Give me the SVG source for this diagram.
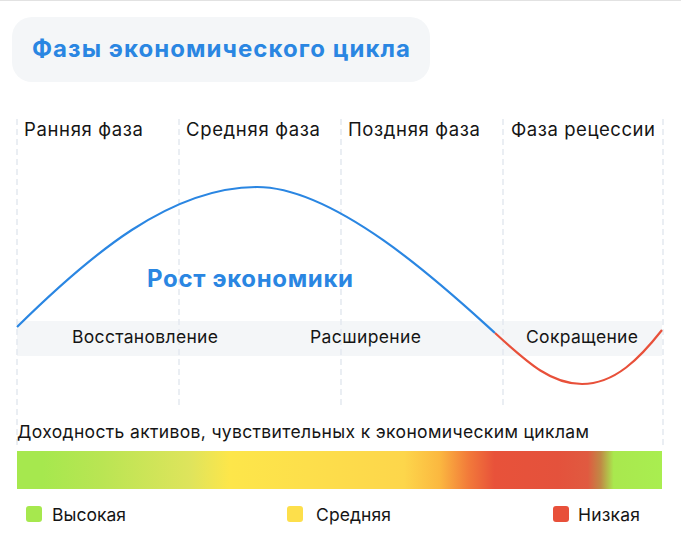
<svg xmlns="http://www.w3.org/2000/svg" width="681" height="540" viewBox="0 0 681 540">
  <style>
    .t { font-family: Inter, "Noto Sans", "DejaVu Sans", sans-serif; fill: #151515; }
    .ph { font-size: 18.5px; }
    .band { font-size: 17.5px; }
    .blue { font-family: Inter, "Noto Sans", "DejaVu Sans", sans-serif; fill: #2a86e2; font-weight: 700; }
    .grid { stroke: #e4e9ef; stroke-width: 1.5; stroke-dasharray: 6 4; fill: none; }
    .lg { font-size: 17.5px; }
  </style>
  <defs>
    <linearGradient id="yield" x1="0" y1="0" x2="1" y2="0">
      <stop offset="0" stop-color="#a6e84e"/>
      <stop offset="0.04" stop-color="#a6e84e"/>
      <stop offset="0.13" stop-color="#b9e553"/>
      <stop offset="0.27" stop-color="#dfe45c"/>
      <stop offset="0.33" stop-color="#fde64a"/>
      <stop offset="0.45" stop-color="#fddf4b"/>
      <stop offset="0.60" stop-color="#fdd64b"/>
      <stop offset="0.655" stop-color="#fbb840"/>
      <stop offset="0.70" stop-color="#f27a3a"/>
      <stop offset="0.74" stop-color="#e8523a"/>
      <stop offset="0.84" stop-color="#e4523c"/>
      <stop offset="0.885" stop-color="#e05a40"/>
      <stop offset="0.905" stop-color="#c08a45"/>
      <stop offset="0.925" stop-color="#a9e84e"/>
      <stop offset="1" stop-color="#a9ee50"/>
    </linearGradient>
  </defs>

  <rect x="0" y="0" width="681" height="540" fill="#ffffff"/>
  <line x1="0" y1="0.5" x2="681" y2="0.5" stroke="#e2e2e2" stroke-width="1"/>

  <g id="title">
    <rect x="12" y="17" width="418" height="65" rx="20" fill="#f4f6f8"/>
    <text class="blue" x="32" y="57" font-size="24" textLength="378" lengthAdjust="spacing">Фазы экономического цикла</text>
  </g>

  <g id="band">
    <rect x="17" y="321" width="645" height="35" fill="#f4f6f8"/>
  </g>

  <g id="grid">
    <line class="grid" x1="17" y1="119" x2="17" y2="447"/>
    <line class="grid" x1="179" y1="119" x2="179" y2="405"/>
    <line class="grid" x1="341" y1="119" x2="341" y2="405"/>
    <line class="grid" x1="503" y1="119" x2="503" y2="405"/>
    <line class="grid" x1="663" y1="119" x2="663" y2="447"/>
  </g>

  <g id="phase-early"><text class="t ph" x="24" y="136" textLength="119" lengthAdjust="spacing">Ранняя фаза</text></g>
  <g id="phase-mid"><text class="t ph" x="186" y="136" textLength="134" lengthAdjust="spacing">Средняя фаза</text></g>
  <g id="phase-late"><text class="t ph" x="348" y="136" textLength="132" lengthAdjust="spacing">Поздняя фаза</text></g>
  <g id="phase-recession"><text class="t ph" x="511" y="136" textLength="144" lengthAdjust="spacing">Фаза рецессии</text></g>

  <g id="connectors">
    <path d="M17,327 C90,255 170,187 257,187 C340,187 455,297 495,333" fill="none" stroke="#2a86e2" stroke-width="2.2"/>
    <path d="M495,333 C530,365 552,384 582,384 C615,384 640,358 662,330" fill="none" stroke="#e8503a" stroke-width="2.2"/>
  </g>

  <g id="growth"><text class="blue" x="147" y="287" font-size="24" textLength="206" lengthAdjust="spacing">Рост экономики</text></g>

  <g id="recovery"><text class="t band" x="72" y="343" textLength="146" lengthAdjust="spacing">Восстановление</text></g>
  <g id="expansion"><text class="t band" x="310" y="343" textLength="111" lengthAdjust="spacing">Расширение</text></g>
  <g id="contraction"><text class="t band" x="526" y="343" textLength="112" lengthAdjust="spacing">Сокращение</text></g>

  <g id="yield-bar">
    <text class="t" x="17" y="438" font-size="17.5" textLength="572" lengthAdjust="spacing">Доходность активов, чувствительных к экономическим циклам</text>
    <rect x="17" y="451" width="645" height="38" fill="url(#yield)"/>
  </g>

  <g id="legend-high">
    <rect x="26" y="506" width="16" height="16" rx="3" fill="#a6e84e"/>
    <text class="t lg" x="52" y="521" textLength="74" lengthAdjust="spacing">Высокая</text>
  </g>
  <g id="legend-mid">
    <rect x="287" y="506" width="16" height="16" rx="3" fill="#fddf4b"/>
    <text class="t lg" x="316" y="521" textLength="75" lengthAdjust="spacing">Средняя</text>
  </g>
  <g id="legend-low">
    <rect x="553" y="506" width="16" height="16" rx="3" fill="#e8503a"/>
    <text class="t lg" x="578" y="521" textLength="62" lengthAdjust="spacing">Низкая</text>
  </g>
</svg>
